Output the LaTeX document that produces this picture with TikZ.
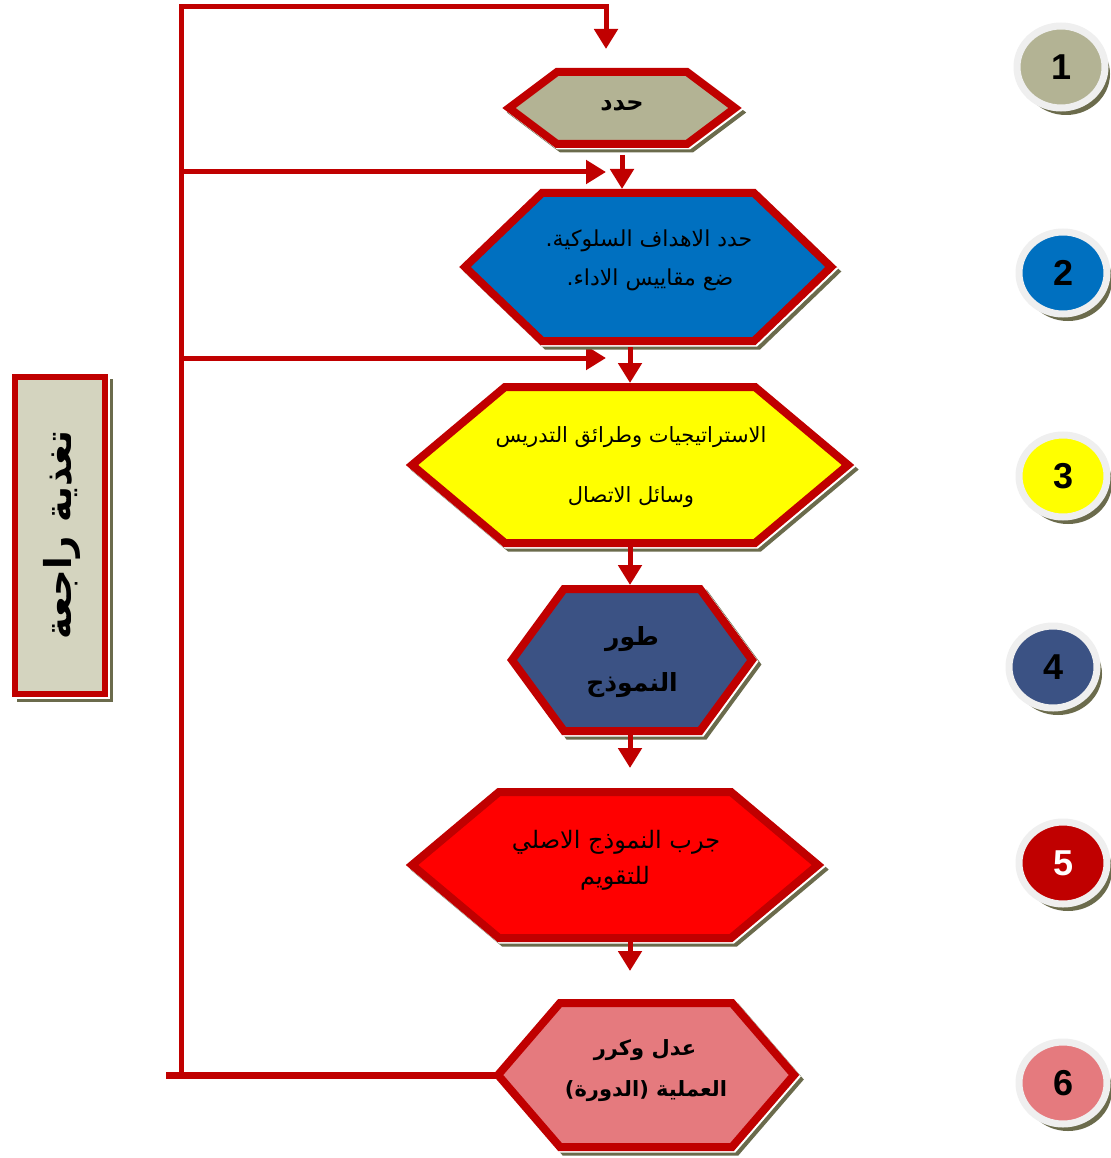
\documentclass[tikz,border=0pt]{standalone}
\usepackage{fontspec}
\setmainfont{Liberation Sans}
\newfontfamily\arabicfont[Script=Arabic]{DejaVu Sans}
\TeXXeTstate=1
\usetikzlibrary{arrows.meta,calc,shapes.geometric,shadows}

\definecolor{edgered}{HTML}{C00000}
\definecolor{shadeolive}{HTML}{6B6B4C}
\definecolor{khaki}{HTML}{B3B394}
\definecolor{ocean}{HTML}{0070C0}
\definecolor{lemon}{HTML}{FFFF00}
\definecolor{slateblue}{HTML}{3B5284}
\definecolor{pure}{HTML}{FF0000}
\definecolor{rose}{HTML}{E57A7E}
\definecolor{stone}{HTML}{D4D4BF}
\definecolor{ringgray}{HTML}{EFEFEF}

\newcommand\arsize[1]{\arabicfont\fontsize{#1}{#1}\selectfont}
\newcommand\arbsize[1]{\arabicfont\bfseries\fontsize{#1}{#1}\selectfont}

\tikzset{
  frame/.style={rectangle, draw=none, fill=none, inner sep=0pt, outer sep=0pt},
  rim/.style={draw=edgered, line width=8, line join=miter},
  shadowfar/.style={draw=shadeolive, fill=shadeolive, line width=8, line join=miter},
  shadownear/.style={draw=white, fill=white, line width=8, line join=miter},
  arr/.style={draw=edgered, line width=5, line join=miter, -{Triangle[width=23,length=20]}},
  ar/.style={inner sep=0pt, font=\arsize{22}},
  arb/.style={inner sep=0pt, font=\arbsize{22}},
  disc/.style={ellipse, draw=ringgray, line width=7, minimum width=88, minimum height=82,
    inner sep=0pt, font=\bfseries\fontsize{36}{40}\selectfont,
    general shadow={shadow xshift=5pt, shadow yshift=-7pt, fill=shadeolive}},
}

% one hexagon outline around a frame node: style, node, half width of flat edge, offset
\newcommand\hexdraw[4]{%
  \draw[#1] ([shift={(#4,#4)}]#2.west)
    -- ([shift={({#4-#3},#4)}]#2.north) -- ([shift={({#4+#3},#4)}]#2.north)
    -- ([shift={(#4,#4)}]#2.east)
    -- ([shift={({#4+#3},#4)}]#2.south) -- ([shift={({#4-#3},#4)}]#2.south) -- cycle;}

% hexagon: name, centre, half width at the points, half width of flat edges, half height, fill
\newcommand\hexnode[6]{%
  \node[frame, minimum width={2*#3}, minimum height={2*#5}] (#1) at #2 {};
  \hexdraw{shadowfar}{#1}{#4}{4.5}
  \hexdraw{shadownear}{#1}{#4}{1.5}
  \hexdraw{rim, fill=#6}{#1}{#4}{0}}

\begin{document}
\begin{tikzpicture}[x=1pt, y=-1pt]
\useasboundingbox (0,0) rectangle (1110,1158);
\fill[white] (0,0) rectangle (1110,1158);

% feedback loop
\coordinate (lb) at (181,1075);
\coordinate (lt) at (181,7);
\coordinate (in1) at (606,49);
\coordinate (j2) at (181,172);
\coordinate (in2) at (606,172);
\coordinate (j3) at (181,358);
\coordinate (in3) at (606,358);
\coordinate (lend) at (166,1075);
\draw[arr] (lb) -- (lt) -| (in1);
\draw[arr] (j2) -- (in2);
\draw[arr] (j3) -- (in3);

% process steps
\hexnode{h1}{(622,108)}{113}{65}{36}{khaki}
\hexnode{h2}{(648,267)}{183}{106}{74}{ocean}
\hexnode{h3}{(630,465)}{218}{125}{78}{lemon}
\hexnode{h4}{(632,660)}{120}{68}{71}{slateblue}
\hexnode{h5}{(615,865)}{203}{116}{73}{pure}
\hexnode{h6}{(646,1075)}{148}{86}{72}{rose}

\draw[edgered, line width=7] (h6.west) -- (lend);

% step texts
\node[arb, font=\arbsize{24}] (t1) at (622,106) {\beginR حدد\endR};
\node[ar] (t2a) at (649,241) {\beginR حدد الاهداف السلوكية.\endR};
\node[ar] (t2b) at (650,280) {\beginR ضع مقاييس الاداء.\endR};
\node[ar, font=\arsize{21}] (t3a) at (631,437) {\beginR الاستراتيجيات وطرائق التدريس\endR};
\node[ar, font=\arsize{21}] (t3b) at (631,497) {\beginR وسائل الاتصال\endR};
\node[arb, font=\arbsize{25}] (t4a) at (632,639) {\beginR طور\endR};
\node[arb, font=\arbsize{25}] (t4b) at (632,685) {\beginR النموذج\endR};
\node[ar, font=\arsize{24}] (t5a) at (616,842) {\beginR جرب النموذج الاصلي\endR};
\node[ar, font=\arsize{24}] (t5b) at (615,878) {\beginR للتقويم\endR};
\node[arb, font=\arbsize{21}] (t6a) at (645,1050) {\beginR عدل وكرر\endR};
\node[arb, font=\arbsize{21}] (t6b) at (646,1091) {\beginR العملية (الدورة)\endR};

% arrows between steps
\coordinate (t45) at (630,768);
\coordinate (t56) at (630,971);
\draw[arr, shorten >=4pt] ($(h1.south)+(0,11)$) -- (h1.south |- h2.north);
\draw[arr, shorten >=4pt] ($(h2.south -| h3.north)+(0,6)$) -- (h3.north);
\draw[arr, shorten >=4pt] ($(h3.south)+(0,4)$) -- (h3.south |- h4.north);
\draw[arr] ($(h4.south -| t45)+(0,4)$) -- (t45);
\draw[arr] ($(h5.south -| t56)+(0,4)$) -- (t56);

% feedback label
\node[frame, minimum width=90, minimum height=317] (fb) at (60,535.5) {};
\draw[draw=shadeolive, fill=shadeolive, line width=6] ([shift={(4.5,4.5)}]fb.north west) rectangle ([shift={(4.5,4.5)}]fb.south east);
\draw[draw=white, fill=white, line width=6] ([shift={(1.5,1.5)}]fb.north west) rectangle ([shift={(1.5,1.5)}]fb.south east);
\draw[draw=edgered, fill=stone, line width=6] (fb.north west) rectangle (fb.south east);
\node[inner sep=0pt, rotate=90, font=\arbsize{37}] (fbt) at (62,535) {\beginR تغذية راجعة\endR};

% step numbers
\node[disc, fill=khaki] (n1) at (1061,67) {1};
\node[disc, fill=ocean] (n2) at (1063,273) {2};
\node[disc, fill=lemon] (n3) at (1063,476) {3};
\node[disc, fill=slateblue] (n4) at (1053,667) {4};
\node[disc, fill=edgered, text=white] (n5) at (1063,863) {5};
\node[disc, fill=rose] (n6) at (1063,1083) {6};
\end{tikzpicture}
\end{document}
